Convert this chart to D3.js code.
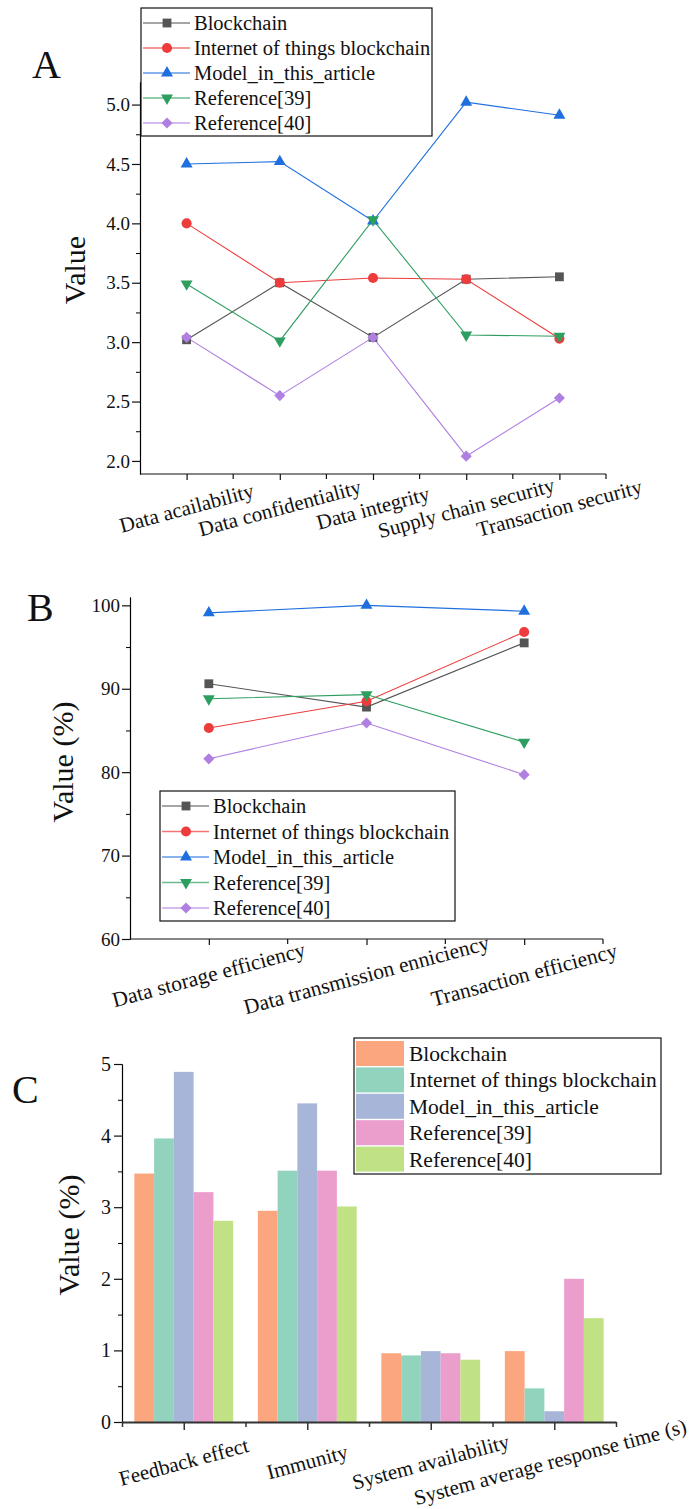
<!DOCTYPE html>
<html>
<head>
<meta charset="utf-8">
<script src="https://cdn.jsdelivr.net/npm/d3@7"></script>
<style>
  body { margin: 0; background: #fff; }
  text { font-family: "Liberation Serif", "Times New Roman", serif; fill: #111; }
</style>
</head>
<body>
<div id="chart"></div>
<script>
// series shared by all three panels
var seriesNames = ["Blockchain", "Internet of things blockchain", "Model_in_this_article", "Reference[39]", "Reference[40]"];
var lineColors = ["#555555", "#ee3b3b", "#1f6fdf", "#2e9e60", "#b07fe2"];
var barColors = ["#fba67f", "#92d3be", "#a7b5d8", "#eb9dcb", "#c1e284"];

// panel A
var catsA = ["Data acailability", "Data confidentiality", "Data integrity", "Supply chain security", "Transaction security"];
var blockchainA = [3.02, 3.50, 3.04, 3.53, 3.55];
var iotA = [4.00, 3.50, 3.54, 3.53, 3.03];
var modelA = [4.50, 4.52, 4.02, 5.02, 4.91];
var ref39A = [3.49, 3.01, 4.03, 3.06, 3.05];
var ref40A = [3.04, 2.55, 3.04, 2.04, 2.53];
var ticksA = [2.0, 2.5, 3.0, 3.5, 4.0, 4.5, 5.0];

// panel B
var catsB = ["Data storage efficiency", "Data transmission enniciency", "Transaction efficiency"];
var blockchainB = [90.6, 87.8, 95.5];
var iotB = [85.3, 88.5, 96.8];
var modelB = [99.1, 100.0, 99.3];
var ref39B = [88.8, 89.3, 83.6];
var ref40B = [81.6, 85.9, 79.7];
var ticksB = [60, 70, 80, 90, 100];

// panel C
var catsC = ["Feedback effect", "Immunity", "System availability", "System average response time (s)"];
var blockchainC = [3.47, 2.95, 0.96, 0.99];
var iotC = [3.96, 3.51, 0.93, 0.47];
var modelC = [4.89, 4.45, 0.99, 0.15];
var ref39C = [3.21, 3.51, 0.96, 2.00];
var ref40C = [2.81, 3.01, 0.87, 1.45];
var ticksC = [0, 1, 2, 3, 4, 5];

var svg = d3.select("#chart").append("svg").attr("width", 696).attr("height", 1509);

// marker shapes per series
var tri = d3.symbol().type(d3.symbolTriangle).size(62);
var shapes = [
  { p: d3.symbol().type(d3.symbolSquare).size(78)(), r: 0 },
  { p: d3.symbol().type(d3.symbolCircle).size(80)(), r: 0 },
  { p: tri(), r: 0 },
  { p: tri(), r: 180 },
  { p: d3.symbol().type(d3.symbolSquare).size(62)(), r: 45 }
];

function marker(sel, i, cx, cy) {
  sel.append("path")
    .attr("d", shapes[i].p)
    .attr("transform", "translate(" + cx + "," + cy + ") rotate(" + shapes[i].r + ")")
    .attr("fill", lineColors[i]);
}

function styleAxis(ax) {
  ax.selectAll("path, line").attr("stroke", "#111").attr("stroke-width", 1.2);
  ax.selectAll("text").attr("font-size", "19px").attr("fill", "#111");
}

function linePanel(c) {
  var g = svg.append("g");
  var x = d3.scalePoint().domain(c.cats).range([c.x0, c.x1]).padding(0.5);
  var y = d3.scaleLinear().domain(c.yDomain).range([c.yBottom, c.yTop]);

  // y axis + minor ticks
  var ay = g.append("g").attr("transform", "translate(" + c.x0 + ",0)")
    .call(d3.axisLeft(y).tickValues(c.ticks).tickFormat(c.fmt).tickSize(8).tickSizeOuter(0).tickPadding(2));
  var minors = c.ticks.slice(0, -1).map(function(t, i) { return (t + c.ticks[i + 1]) / 2; });
  g.append("g").attr("transform", "translate(" + c.x0 + ",0)")
    .call(d3.axisLeft(y).tickValues(minors).tickFormat("").tickSize(4).tickSizeOuter(0));
  styleAxis(ay);

  // x axis
  var ax = g.append("g").attr("transform", "translate(0," + c.yBottom + ")")
    .call(d3.axisBottom(x).tickFormat("").tickSize(6).tickSizeOuter(0));
  styleAxis(ax);
  ax.select(".domain").attr("d", "M" + c.x0 + ",0H" + c.x1);
  var bounds = d3.range(1, c.cats.length + 1).map(function(i) { return c.x0 + i * x.step(); });
  ax.selectAll(".minor").data(bounds).enter().append("line")
    .attr("x1", function(d) { return d; }).attr("x2", function(d) { return d; })
    .attr("y1", 0).attr("y2", 5).attr("stroke", "#111").attr("stroke-width", 1.2);

  g.selectAll(".xl").data(c.cats).enter().append("text")
    .attr("transform", function(d) { return "translate(" + x(d) + "," + (c.yBottom + c.labelDy) + ") rotate(-15)"; })
    .attr("text-anchor", "middle").attr("dominant-baseline", "central")
    .attr("font-size", c.labelSize).text(function(d) { return d; });

  // series
  var line = d3.line().x(function(d, i) { return x(c.cats[i]); }).y(function(d) { return y(d); });
  c.series.forEach(function(vals, si) {
    g.append("path").attr("d", line(vals)).attr("fill", "none")
      .attr("stroke", lineColors[si]).attr("stroke-width", 1.1);
  });
  c.series.forEach(function(vals, si) {
    vals.forEach(function(v, i) { marker(g, si, x(c.cats[i]), y(v)); });
  });

  // y title + panel letter
  g.append("text").attr("transform", "translate(" + c.titleX + "," + c.titleY + ") rotate(-90)")
    .attr("text-anchor", "middle").attr("dominant-baseline", "central")
    .attr("font-size", "30px").text(c.title);
  g.append("text").attr("x", c.letter[0]).attr("y", c.letter[1]).attr("font-size", "40px").text(c.letterText);

  // legend
  var L = c.legend;
  g.append("rect").attr("x", L.x).attr("y", L.y).attr("width", L.w).attr("height", L.h)
    .attr("fill", "#fff").attr("stroke", "#111").attr("stroke-width", 1.2);
  seriesNames.forEach(function(n, i) {
    var cy = L.y + L.first + i * L.step;
    g.append("line").attr("x1", L.x + 2).attr("x2", L.x + 49).attr("y1", cy).attr("y2", cy)
      .attr("stroke", lineColors[i]).attr("stroke-opacity", 0.7).attr("stroke-width", 1.3);
    marker(g, i, L.x + 26, cy);
    g.append("text").attr("x", L.x + 53).attr("y", cy).attr("dominant-baseline", "central")
      .attr("font-size", "20.5px").text(n);
  });
}

linePanel({
  cats: catsA, series: [blockchainA, iotA, modelA, ref39A, ref40A],
  x0: 140, x1: 606, yBottom: 474, yTop: 82, yDomain: [1.89, 5.19],
  ticks: ticksA, fmt: d3.format(".1f"), labelDy: 34, labelSize: "21px",
  title: "Value", titleX: 74, titleY: 270, letter: [32, 78], letterText: "A",
  legend: { x: 141, y: 8, w: 291, h: 128, first: 15, step: 25 }
});

linePanel({
  cats: catsB, series: [blockchainB, iotB, modelB, ref39B, ref40B],
  x0: 130, x1: 603, yBottom: 939, yTop: 597, yDomain: [60, 101],
  ticks: ticksB, fmt: d3.format("d"), labelDy: 36, labelSize: "21.5px",
  title: "Value (%)", titleX: 62, titleY: 762, letter: [27, 621], letterText: "B",
  legend: { x: 160, y: 791, w: 295, h: 130, first: 15, step: 25.5 }
});

// panel C: grouped bars
(function() {
  var g = svg.append("g");
  var x0 = 122, x1 = 616, yBottom = 1422, yTop = 1064;
  var x = d3.scaleBand().domain(catsC).range([x0, x1]).paddingInner(0.2).paddingOuter(0.1);
  var xs = d3.scaleBand().domain(d3.range(5)).range([0, x.bandwidth()]);
  var y = d3.scaleLinear().domain([0, 5]).range([yBottom, yTop]);
  var series = [blockchainC, iotC, modelC, ref39C, ref40C];

  series.forEach(function(vals, si) {
    g.selectAll(".b" + si).data(vals).enter().append("rect")
      .attr("x", function(d, i) { return x(catsC[i]) + xs(si); })
      .attr("y", function(d) { return y(d); })
      .attr("width", xs.bandwidth())
      .attr("height", function(d) { return yBottom - y(d); })
      .attr("fill", barColors[si]);
  });

  var ay = g.append("g").attr("transform", "translate(" + x0 + ",0)")
    .call(d3.axisLeft(y).tickValues(ticksC).tickFormat(d3.format("d")).tickSize(8).tickSizeOuter(0).tickPadding(3));
  g.append("g").attr("transform", "translate(" + x0 + ",0)")
    .call(d3.axisLeft(y).tickValues([0.5, 1.5, 2.5, 3.5, 4.5]).tickFormat("").tickSize(4).tickSizeOuter(0));
  styleAxis(ay);
  ay.selectAll("text").attr("font-size", "20px");

  var centers = d3.range(4).map(function(i) { return x0 + (i + 0.5) * x.step(); });
  var ax = g.append("g").attr("transform", "translate(0," + yBottom + ")")
    .call(d3.axisBottom(d3.scaleLinear().domain([0, 4]).range([x0, x1]))
      .tickValues(d3.range(0, 4.5, 0.5)).tickFormat("").tickSize(6).tickSizeOuter(0));
  ax.selectAll("line").attr("stroke", "#333").attr("stroke-width", 1.5)
    .attr("y2", function(d) { return d % 1 ? 8 : 5; });
  ax.select(".domain").attr("stroke", "#333").attr("stroke-width", 2.2);

  g.selectAll(".xl").data(catsC).enter().append("text")
    .attr("transform", function(d, i) { return "translate(" + (centers[i] - (i === 3 ? 4 : 0)) + "," + (yBottom + 40) + ") rotate(-15)"; })
    .attr("text-anchor", "middle").attr("dominant-baseline", "central")
    .attr("font-size", "21px").text(function(d) { return d; });

  g.append("text").attr("transform", "translate(68,1235) rotate(-90)")
    .attr("text-anchor", "middle").attr("dominant-baseline", "central")
    .attr("font-size", "30px").text("Value (%)");
  g.append("text").attr("x", 12).attr("y", 1103).attr("font-size", "40px").text("C");

  // legend with swatches
  var L = { x: 354, y: 1038, w: 307, h: 136 };
  g.append("rect").attr("x", L.x).attr("y", L.y).attr("width", L.w).attr("height", L.h)
    .attr("fill", "#fff").attr("stroke", "#111").attr("stroke-width", 1.2);
  seriesNames.forEach(function(n, i) {
    var top = L.y + 3 + i * 26.4;
    g.append("rect").attr("x", L.x + 2).attr("y", top).attr("width", 48).attr("height", 25)
      .attr("fill", barColors[i]);
    g.append("text").attr("x", L.x + 55).attr("y", top + 13).attr("dominant-baseline", "central")
      .attr("font-size", "21.5px").text(n);
  });
})();
</script>
</body>
</html>
